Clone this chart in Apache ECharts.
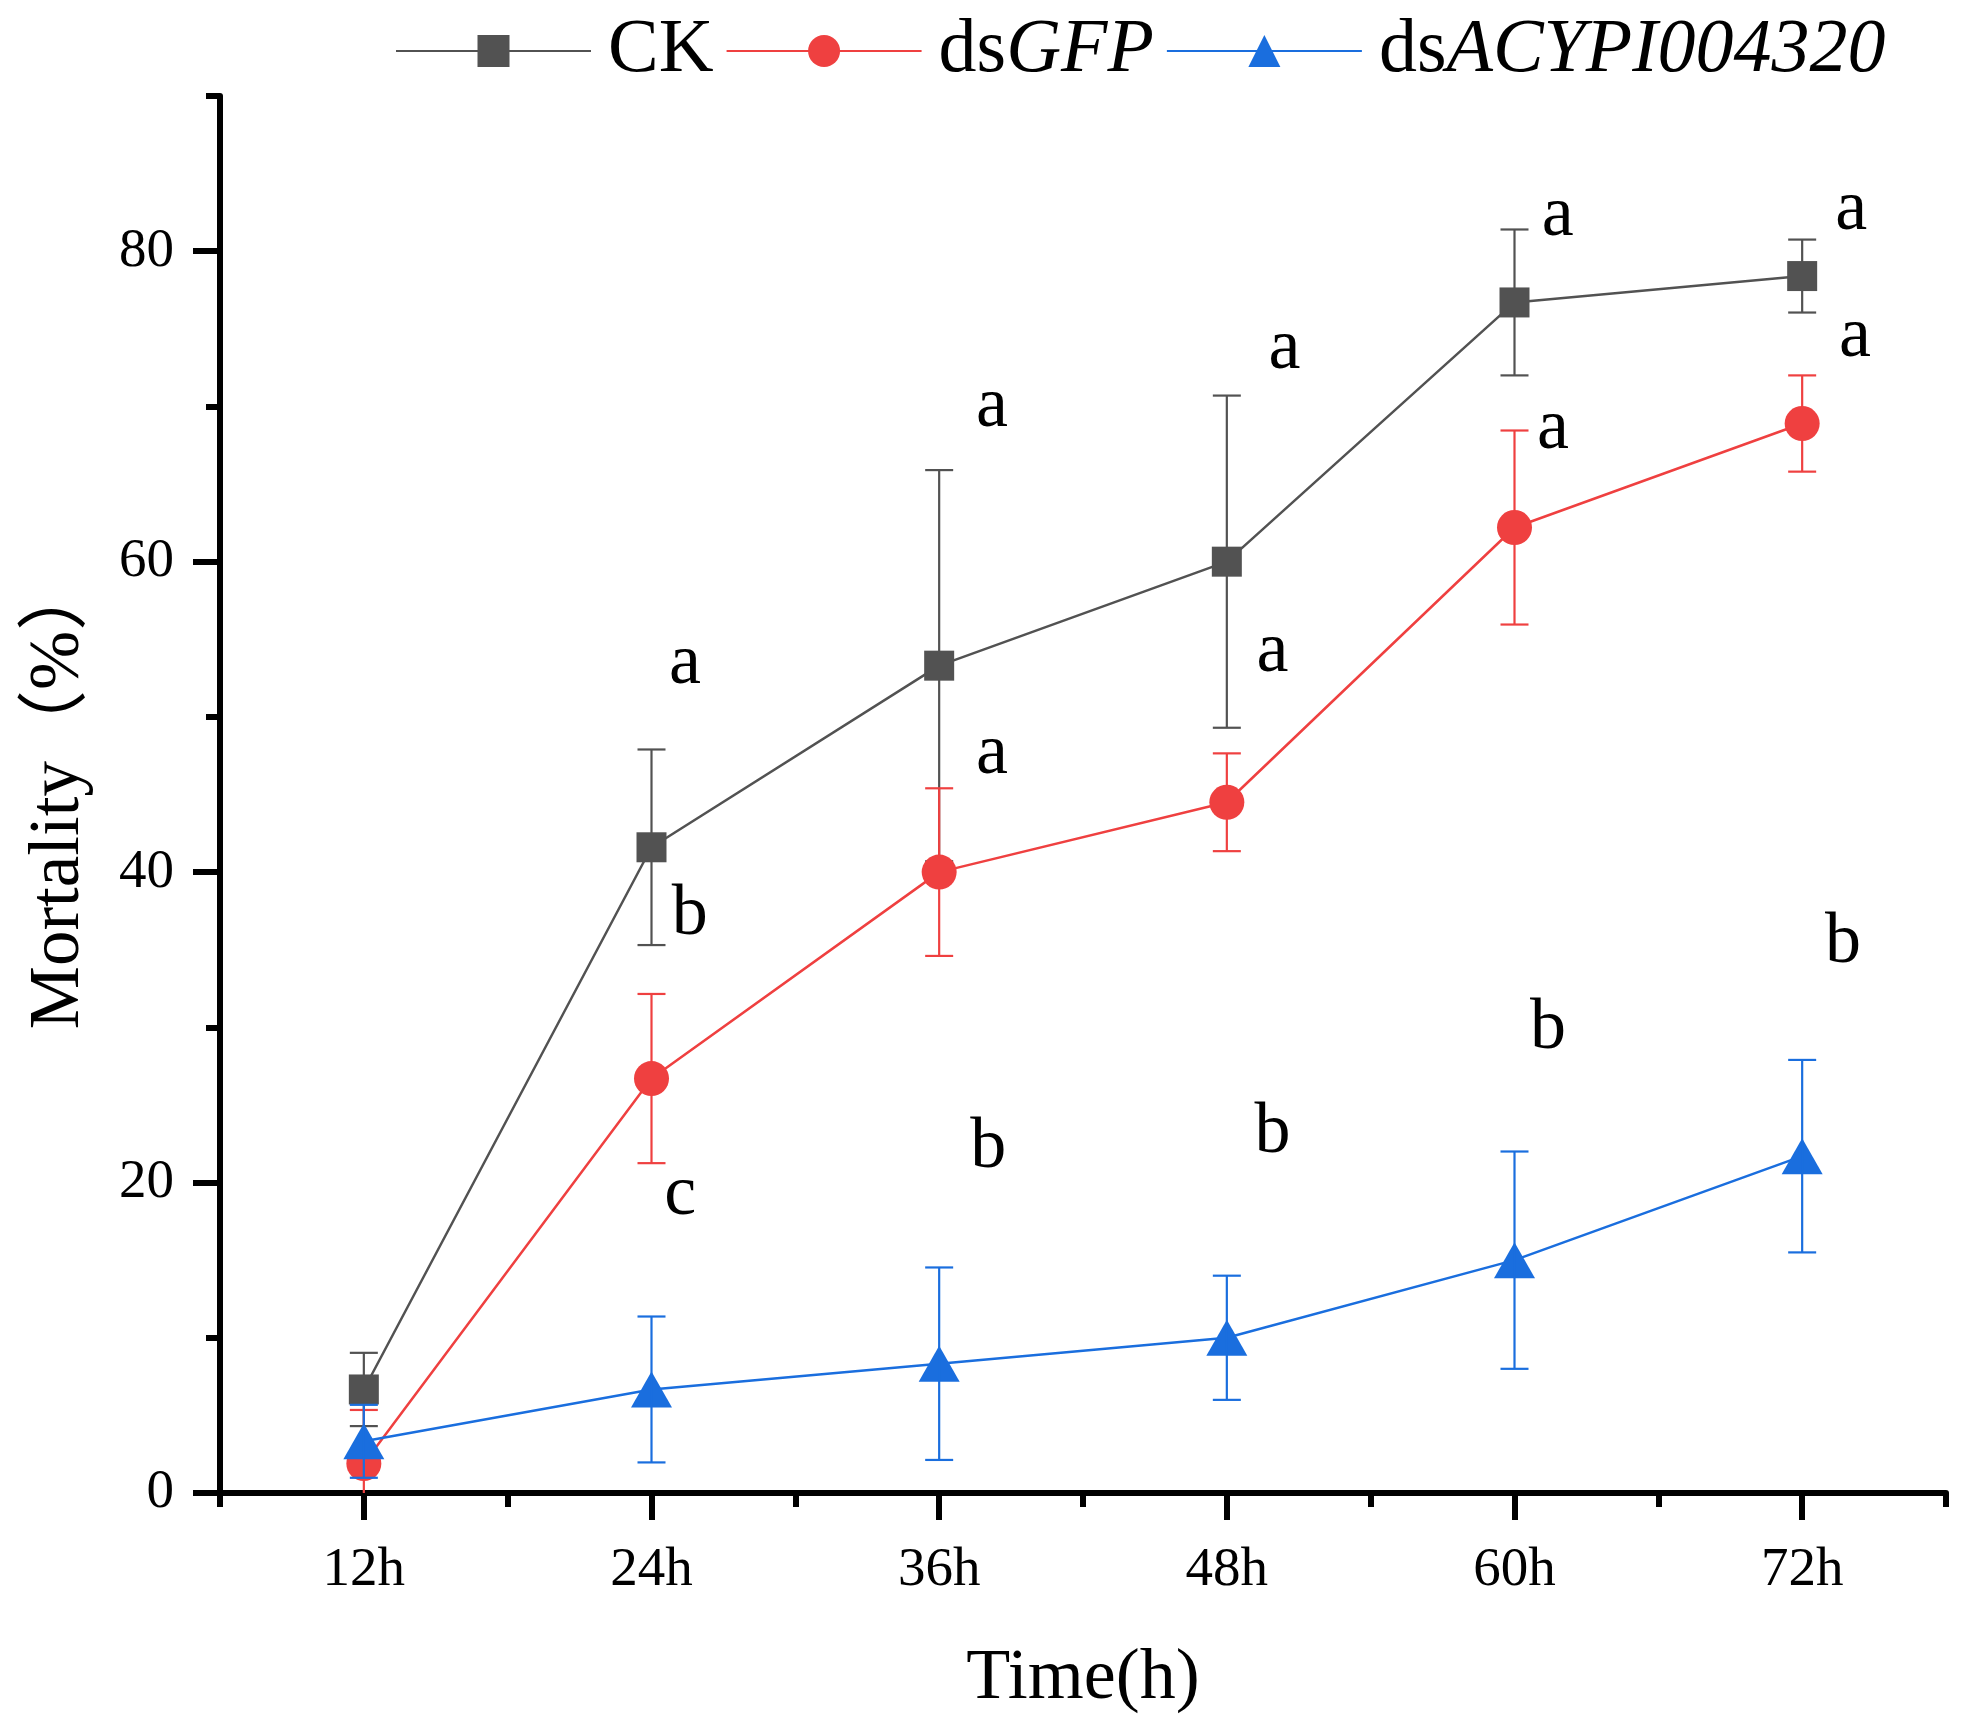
<!DOCTYPE html>
<html>
<head>
<meta charset="utf-8">
<script src="https://cdn.jsdelivr.net/npm/echarts@6/dist/echarts.min.js"></script>
<style>
html,body{margin:0;padding:0;background:#fff;}
#chart{width:1976px;height:1736px;}
</style>
</head>
<body>
<div id="chart"></div>
<script>
// ---- data ----
const hours = [12, 24, 36, 48, 60, 72];
const majorTicksX = [12, 24, 36, 48, 60, 72];
const minorTicksX = [6, 18, 30, 42, 54, 66, 78];
const majorTicksY = [0, 20, 40, 60, 80];
const minorTicksY = [10, 30, 50, 70, 90];

const ckMean  = [6.67, 41.6, 53.3, 60.0, 76.7, 78.4];
const ckErr   = [2.36, 6.3, 12.6, 10.7, 4.7, 2.35];
const gfpMean = [1.9, 26.7, 40.0, 44.5, 62.2, 68.9];
const gfpErr  = [3.45, 5.45, 5.4, 3.15, 6.25, 3.1];
const acyMean = [3.33, 6.67, 8.33, 10.0, 15.0, 21.7];
const acyErr  = [2.35, 4.7, 6.2, 4.0, 7.0, 6.2];

const letterText = ['a','b','c','a','a','b','a','a','b','a','a','b','a','a','b'];
const letterX = [25.4, 25.6, 25.2, 38.2, 38.2, 38.05, 50.4, 49.9, 49.9, 61.8, 61.6, 61.4, 74.05, 74.2, 73.7];
const letterY = [53.5, 37.2, 19.3, 70.1, 47.7, 22.2, 73.8, 54.3, 23.2, 82.4, 68.7, 29.9, 82.8, 74.6, 35.4];

const seriesNames = ['CK', 'dsGFP', 'dsACYPI004320'];

// ---- style ----
const FONT = "'Liberation Serif', 'Times New Roman', 'Noto Sans CJK SC', serif";
const C_CK = '#525252', C_GFP = '#EF4040', C_ACY = '#1A6EDE';

function pairs(m) { return hours.map((h, i) => [h, m[i]]); }
function errData(m, e) { return hours.map((h, i) => [h, m[i] - e[i], m[i] + e[i]]); }
function errRender(color) {
  return function (params, api) {
    const x = api.value(0), lo = api.value(1), hi = api.value(2);
    const pLo = api.coord([x, lo]), pHi = api.coord([x, hi]);
    const half = 14;
    const st = { stroke: color, lineWidth: 2.2 };
    return {
      type: 'group',
      children: [
        { type: 'line', shape: { x1: pHi[0], y1: pHi[1], x2: pLo[0], y2: pLo[1] }, style: st },
        { type: 'line', shape: { x1: pHi[0] - half, y1: pHi[1], x2: pHi[0] + half, y2: pHi[1] }, style: st },
        { type: 'line', shape: { x1: pLo[0] - half, y1: pLo[1], x2: pLo[0] + half, y2: pLo[1] }, style: st }
      ]
    };
  };
}
function letterRender(params, api) {
  const p = api.coord([api.value(0), api.value(1)]);
  const t = letterText[params.dataIndex];
  return {
    type: 'text', x: p[0], y: p[1] + (t === 'b' ? 0 : 2),
    style: { text: t, fill: '#000', font: "72px " + FONT, align: 'center', verticalAlign: 'middle' }
  };
}

const axisBase = { show: true, lineStyle: { color: '#000', width: 6 } };

const chart = echarts.init(document.getElementById('chart'), null, { renderer: 'canvas' });
chart.setOption({
  animation: false,
  backgroundColor: '#fff',
  grid: { left: 220, right: 30, top: 96, bottom: 243, containLabel: false },
  legend: {
    left: 390, top: 8,
    itemWidth: 195, itemHeight: 40, itemGap: 12,
    data: seriesNames,
    formatter: function (name) {
      if (name === 'CK') return '{n|CK}';
      return '{n|ds}{i|' + name.slice(2) + '}';
    },
    textStyle: {
      fontFamily: FONT, fontSize: 76, color: '#000',
      rich: {
        n: { fontFamily: FONT, fontSize: 76, color: '#000', padding: [0, 0, 0, 12] },
        i: { fontFamily: FONT, fontSize: 76, color: '#000', fontStyle: 'italic' }
      }
    }
  },
  xAxis: [
    {
      type: 'value', min: 6, max: 78, position: 'bottom',
      axisLine: axisBase,
      axisTick: { show: true, inside: false, length: 27, lineStyle: { color: '#000', width: 6 }, customValues: majorTicksX },
      axisLabel: { show: true, customValues: majorTicksX, formatter: v => v + 'h', margin: 50, fontFamily: FONT, fontSize: 55, color: '#000' },
      splitLine: { show: false },
      name: 'Time(h)', nameLocation: 'middle', nameGap: 150,
      nameTextStyle: { fontFamily: FONT, fontSize: 72, color: '#000' }
    },
    {
      type: 'value', min: 6, max: 78, position: 'bottom',
      axisLine: { show: false },
      axisTick: { show: true, length: 14, lineStyle: { color: '#000', width: 6 }, customValues: minorTicksX },
      axisLabel: { show: false },
      splitLine: { show: false }
    }
  ],
  yAxis: [
    {
      type: 'value', min: 0, max: 90, position: 'left',
      axisLine: axisBase,
      axisTick: { show: true, length: 27, lineStyle: { color: '#000', width: 6 }, customValues: majorTicksY },
      axisLabel: { show: true, customValues: majorTicksY, margin: 46, fontFamily: FONT, fontSize: 55, color: '#000' },
      splitLine: { show: false },
      name: 'Mortality（%）', nameLocation: 'middle', nameGap: 125,
      nameTextStyle: { fontFamily: FONT, fontSize: 71, color: '#000' }
    },
    {
      type: 'value', min: 0, max: 90, position: 'left',
      axisLine: { show: false },
      axisTick: { show: true, length: 14, lineStyle: { color: '#000', width: 6 }, customValues: minorTicksY },
      axisLabel: { show: false },
      splitLine: { show: false }
    }
  ],
  series: [
    { type: 'custom', name: 'ckErr', renderItem: errRender(C_CK), data: errData(ckMean, ckErr), encode: { x: 0, y: [1, 2] }, clip: true, silent: true, z: 2 },
    { type: 'line', name: 'CK', data: pairs(ckMean), symbol: 'rect', symbolSize: 30, color: C_CK,
      lineStyle: { color: C_CK, width: 2.5 }, itemStyle: { color: C_CK }, z: 3 },
    { type: 'custom', name: 'gfpErr', renderItem: errRender(C_GFP), data: errData(gfpMean, gfpErr), encode: { x: 0, y: [1, 2] }, clip: true, silent: true, z: 2 },
    { type: 'line', name: 'dsGFP', data: pairs(gfpMean), symbol: 'circle', symbolSize: 35, color: C_GFP,
      lineStyle: { color: C_GFP, width: 2.5 }, itemStyle: { color: C_GFP }, z: 3 },
    { type: 'custom', name: 'acyErr', renderItem: errRender(C_ACY), data: errData(acyMean, acyErr), encode: { x: 0, y: [1, 2] }, clip: true, silent: true, z: 4 },
    { type: 'line', name: 'dsACYPI004320', data: pairs(acyMean), symbol: 'triangle', symbolSize: [41, 36], color: C_ACY,
      lineStyle: { color: C_ACY, width: 2.5 }, itemStyle: { color: C_ACY }, z: 3 },
    {
      type: 'custom', name: 'letters', silent: true, z: 5, clip: false,
      renderItem: letterRender,
      data: letterText.map((t, i) => [letterX[i], letterY[i]]),
      encode: { x: 0, y: 1 }
    }
  ]
});
</script>
</body>
</html>
